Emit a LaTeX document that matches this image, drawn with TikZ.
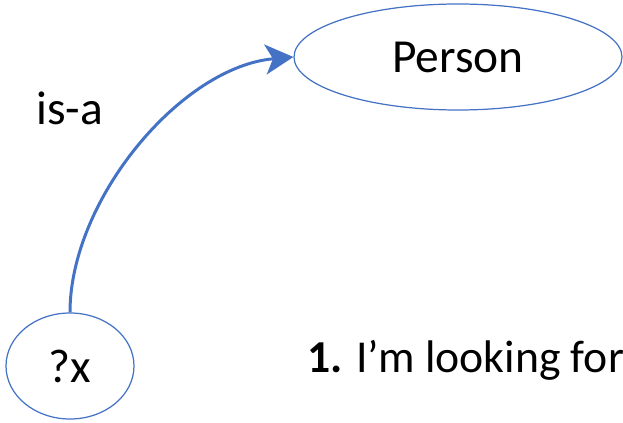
\documentclass[tikz,border=0pt]{standalone}
\usepackage{fontspec}
\setmainfont{Carlito}
\usetikzlibrary{shapes.geometric,arrows.meta}
\pgfdeclarelayer{edgelayer}
\pgfdeclarelayer{nodelayer}
\pgfsetlayers{edgelayer,nodelayer,main}
\definecolor{officeblue}{RGB}{68,114,196}
\tikzset{font=\fontsize{27}{32}\selectfont}
\tikzstyle{none}=[inner sep=0pt]
\tikzstyle{concept}=[ellipse,draw=officeblue,line width=0.7pt,inner sep=0pt]
\tikzstyle{isa}=[draw=officeblue,line width=1.7pt,-{Stealth[length=0.56cm,width=0.6cm,inset=0.15cm]}]

\begin{document}
\begin{tikzpicture}
	\useasboundingbox (0, 0) rectangle (12.46, -8.46);
	\begin{pgfonlayer}{nodelayer}
		\node [style=concept, minimum width=6.56cm, minimum height=2.12cm] (0) at (9.16, -1.14) {Person};
		\node [style=concept, minimum width=2.56cm, minimum height=2.12cm] (1) at (1.4, -7.32) {?x};
		\node [style=none, anchor=base west] (2) at (0.72, -2.5) {is-a};
		\node [style=none, anchor=base west, font=\fontsize{26}{31}\selectfont] (3) at (6.14, -7.46) {\textbf{1.} I’m looking for};
	\end{pgfonlayer}
	\begin{pgfonlayer}{edgelayer}
		\draw [style=isa] (1.north) to[out=90, in=185, looseness=0.85] (0.west);
	\end{pgfonlayer}
\end{tikzpicture}
\end{document}
